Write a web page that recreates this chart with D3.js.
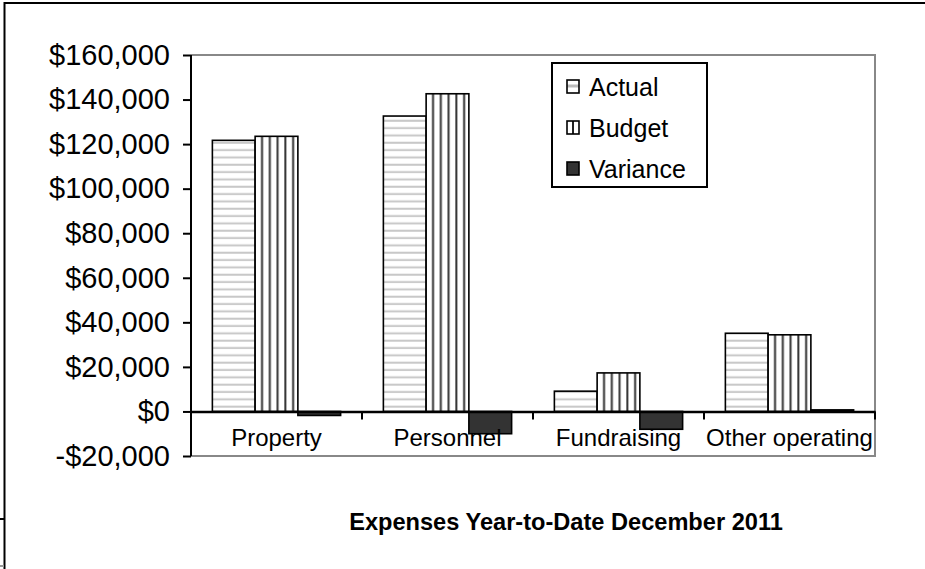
<!DOCTYPE html>
<html>
<head>
<meta charset="utf-8">
<script src="https://cdn.jsdelivr.net/npm/d3@7"></script>
<style>
  body { margin: 0; background: #fff; }
  text { font-family: "Liberation Sans", Arial, sans-serif; fill: #000; }
</style>
</head>
<body>
<div id="chart"></div>
<script>
// chart data
var categories = ["Property", "Personnel", "Fundraising", "Other operating"];
var seriesNames = ["Actual", "Budget", "Variance"];
var actual = [121700, 132600, 9100, 35100];
var budget = [123500, 142600, 17300, 34400];
var variance = [-1800, -10000, -8000, 700];
var tickValues = [-20000, 0, 20000, 40000, 60000, 80000, 100000, 120000, 140000, 160000];
var titleText = "Expenses Year-to-Date December 2011";

var W = 925, H = 569;

var svg = d3.select("#chart").append("svg")
    .attr("width", W)
    .attr("height", H);

// outer frame of the embedded chart
svg.append("line").attr("x1", 4).attr("x2", W).attr("y1", 3).attr("y2", 3)
    .attr("stroke", "#000").attr("stroke-width", 2);
svg.append("line").attr("x1", 4.5).attr("x2", 4.5).attr("y1", 2).attr("y2", H)
    .attr("stroke", "#000").attr("stroke-width", 2);
svg.append("line").attr("x1", 0).attr("x2", 4).attr("y1", 519).attr("y2", 519)
    .attr("stroke", "#000").attr("stroke-width", 2);
svg.append("line").attr("x1", 0).attr("x2", 4).attr("y1", 566).attr("y2", 566)
    .attr("stroke", "#999").attr("stroke-width", 2);

var plotL = 191, plotR = 875, plotT = 55, plotB = 456;

var x0 = d3.scaleBand()
    .domain(categories)
    .range([plotL, plotR])
    .paddingInner(0.25)
    .paddingOuter(0.125);

var x1 = d3.scaleBand()
    .domain(seriesNames)
    .range([0, x0.bandwidth()]);

var y = d3.scaleLinear()
    .domain([-20000, 160000])
    .range([plotB, plotT]);

// patterns
var defs = svg.append("defs");
var step = (plotR - plotL) / categories.length;

var pA = defs.append("pattern")
    .attr("id", "patActual")
    .attr("patternUnits", "userSpaceOnUse")
    .attr("width", 10).attr("height", 7.33);
pA.append("rect").attr("width", 10).attr("height", 7.33).attr("fill", "#fff");
pA.append("rect").attr("y", 2.5).attr("width", 10).attr("height", 2).attr("fill", "#c8c8c8");

var bw = step / 22;
var pB = defs.append("pattern")
    .attr("id", "patBudget")
    .attr("patternUnits", "userSpaceOnUse")
    .attr("x", x0(categories[0]) + x1("Budget") - 1.8)
    .attr("width", bw).attr("height", 10);
pB.append("rect").attr("width", bw).attr("height", 10).attr("fill", "#fff");
pB.append("rect").attr("x", 6.8).attr("width", 1).attr("height", 10).attr("fill", "#aaa");
pB.append("rect").attr("x", 5.2).attr("width", 1.6).attr("height", 10).attr("fill", "#333");

var fills = { Actual: "url(#patActual)", Budget: "url(#patBudget)", Variance: "#333" };

// plot area border (gray)
svg.append("path")
    .attr("d", "M" + plotL + "," + plotT + "H" + plotR + "V" + plotB + "H" + plotL)
    .attr("fill", "none")
    .attr("stroke", "#888")
    .attr("stroke-width", 2);

// bars
var rows = categories.map(function(c, i) {
    return { cat: c, values: [
        { key: "Actual", v: actual[i] },
        { key: "Budget", v: budget[i] },
        { key: "Variance", v: variance[i] }
    ]};
});

var groups = svg.selectAll(".cat")
    .data(rows)
    .enter().append("g")
    .attr("class", "cat")
    .attr("transform", function(d) { return "translate(" + x0(d.cat) + ",0)"; });

groups.selectAll("rect")
    .data(function(d) { return d.values; })
    .enter().append("rect")
    .attr("x", function(d) { return x1(d.key); })
    .attr("width", x1.bandwidth())
    .attr("y", function(d) { return y(Math.max(0, d.v)); })
    .attr("height", function(d) { return Math.abs(y(d.v) - y(0)); })
    .attr("fill", function(d) { return fills[d.key]; })
    .attr("stroke", "#000")
    .attr("stroke-width", 1.6);

// y axis
var yAxis = d3.axisLeft(y)
    .tickValues(tickValues)
    .tickSize(8)
    .tickFormat(function(d) { return (d < 0 ? "-$" : "$") + d3.format(",")(Math.abs(d)); });

var ya = svg.append("g")
    .attr("transform", "translate(" + plotL + ",0)")
    .call(yAxis);
ya.select(".domain").attr("stroke", "#000").attr("stroke-width", 2)
    .attr("d", "M0," + plotT + "V" + plotB);
ya.selectAll(".tick line").attr("stroke", "#000").attr("stroke-width", 2);
ya.selectAll(".tick text")
    .attr("x", -21)
    .style("font-size", "29px")
    .style("font-family", "Liberation Sans, Arial, sans-serif")
    .attr("fill", "#000");

// category axis at zero
var xAxis = d3.axisBottom(x0)
    .tickSize(0)
    .tickSizeOuter(0);
var xa = svg.append("g")
    .attr("transform", "translate(0," + y(0) + ")")
    .call(xAxis);
xa.select(".domain").attr("stroke", "#000").attr("stroke-width", 2.5);
xa.selectAll(".tick text")
    .attr("dy", 0)
    .attr("y", 35)
    .style("font-size", "24px")
    .style("font-family", "Liberation Sans, Arial, sans-serif")
    .attr("fill", "#000");

// separator ticks between categories
var seps = d3.range(1, categories.length + 1).map(function(i) { return plotL + i * step; });
xa.selectAll(".sep")
    .data(seps)
    .enter().append("line")
    .attr("class", "sep")
    .attr("x1", function(d) { return d; })
    .attr("x2", function(d) { return d; })
    .attr("y1", 0)
    .attr("y2", 8)
    .attr("stroke", "#000")
    .attr("stroke-width", 2);

// legend
var lg = svg.append("g").attr("transform", "translate(552,63)");
lg.append("rect")
    .attr("width", 155).attr("height", 124)
    .attr("fill", "#fff").attr("stroke", "#000").attr("stroke-width", 2);

var legendPat = { Actual: "url(#lgActual)", Budget: "url(#lgBudget)", Variance: "#333" };
var lA = defs.append("pattern").attr("id", "lgActual")
    .attr("patternUnits", "objectBoundingBox").attr("width", 1).attr("height", 1);
lA.append("rect").attr("width", 14).attr("height", 14).attr("fill", "#fff");
lA.append("rect").attr("y", 4.5).attr("width", 14).attr("height", 3).attr("fill", "#bbb");
var lB = defs.append("pattern").attr("id", "lgBudget")
    .attr("patternUnits", "objectBoundingBox").attr("width", 1).attr("height", 1);
lB.append("rect").attr("width", 14).attr("height", 14).attr("fill", "#fff");
lB.append("rect").attr("x", 5).attr("width", 2).attr("height", 14).attr("fill", "#222");

var item = lg.selectAll(".item")
    .data(seriesNames)
    .enter().append("g")
    .attr("class", "item")
    .attr("transform", function(d, i) { return "translate(0," + (24 + i * 41) + ")"; });

item.append("rect")
    .attr("x", 15).attr("y", -7)
    .attr("width", 12).attr("height", 13)
    .attr("fill", function(d) { return legendPat[d]; })
    .attr("stroke", "#000").attr("stroke-width", 1.6);

item.append("text")
    .attr("x", 37)
    .attr("y", 9)
    .style("font-size", "25px")
    .text(function(d) { return d; });

// title
svg.append("text")
    .attr("x", 566)
    .attr("y", 530)
    .attr("text-anchor", "middle")
    .style("font-size", "23.6px")
    .style("font-weight", "bold")
    .text(titleText);
</script>
</body>
</html>
